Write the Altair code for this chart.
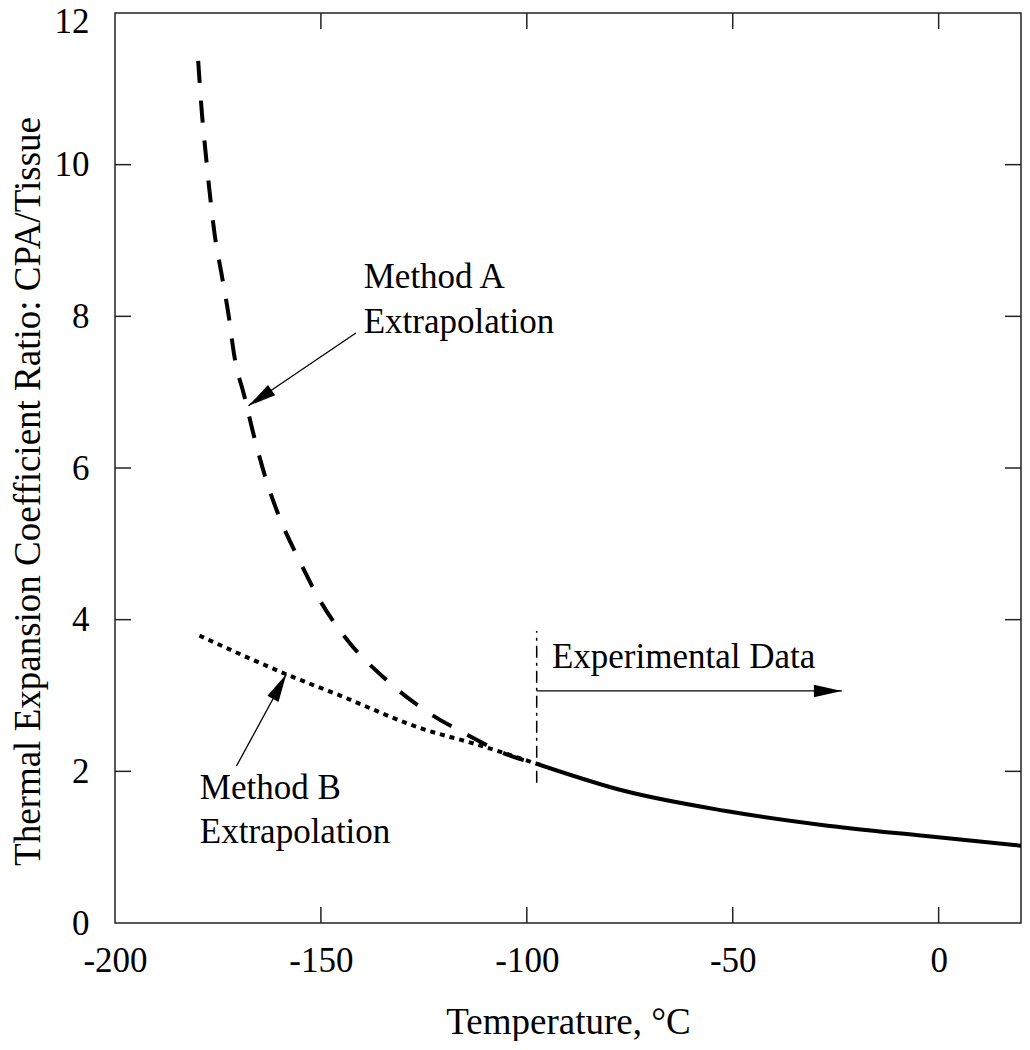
import math
import altair as alt
import pandas as pd

# ---- data ----
temp_a = [-179.8, -178.9, -178.0, -177.0, -175.8, -174.1, -172.4, -171.0, -168.6, -166.2,
          -163.5, -160.0, -155.5, -150.3, -143.4, -134.0, -124.6, -114.4, -104.7, -97.6]
ratio_a = [11.37, 10.68, 10.16, 9.63, 9.08, 8.55, 8.01, 7.47, 6.95, 6.41,
           5.88, 5.34, 4.81, 4.26, 3.72, 3.20, 2.80, 2.48, 2.22, 2.10]

temp_b = [-179.5, -169.0, -158.4, -146.3, -125.3, -112.5, -97.6]
ratio_b = [3.79, 3.53, 3.28, 3.02, 2.56, 2.36, 2.10]

temp_exp = [-97.6, -76.2, -52.0, -27.9, -3.7, 20.0]
ratio_exp = [2.10, 1.74, 1.48, 1.29, 1.15, 1.02]

x_ticks = [-200, -150, -100, -50, 0]
y_ticks = [0, 2, 4, 6, 8, 10, 12]
x_inner = [-150, -100, -50, 0]
y_inner = [2, 4, 6, 8, 10]

# boundary of experimental data
bound_x = -97.6
bound_y = [1.85, 3.85]

# annotations
ann_text = ["Method A", "Extrapolation", "Method B", "Extrapolation", "Experimental Data"]
ann_x = [-139.6, -139.6, -179.4, -179.4, -93.9]
ann_y = [8.37, 7.78, 1.64, 1.06, 3.36]

# arrows: start -> tip
arr_x0 = [-141.5, -170.5, -97.6]
arr_y0 = [7.78, 2.07, 3.06]
arr_x1 = [-167.6, -158.4, -23.5]
arr_y1 = [6.82, 3.28, 3.06]

W, H = 906, 910
XD = [-200, 20]
YD = [0, 12]
FONT = "Liberation Serif"

xs = alt.Scale(domain=XD, nice=False, zero=False)
ys = alt.Scale(domain=YD, nice=False, zero=False)

x_axis = alt.Axis(values=x_ticks, ticks=False, domain=False, grid=False,
                  labelPadding=20, title="Temperature, °C", titlePadding=26,
                  labelFlush=False, labelExpr="'' + datum.value")
y_axis = alt.Axis(values=y_ticks, ticks=False, domain=False, grid=False,
                  labelPadding=26, title="Thermal Expansion Coefficient Ratio: CPA/Tissue",
                  titlePadding=7, titleY=478, titleFontSize=37,
                  labelOffset={"condition": {"test": "datum.value == 12", "value": 8}, "value": 0},
                  labelFlush=False, labelExpr="'' + datum.value")

X = alt.X("t:Q", scale=xs, axis=x_axis)
Y = alt.Y("r:Q", scale=ys, axis=y_axis)

df_a = pd.DataFrame({"t": temp_a, "r": ratio_a})
df_b = pd.DataFrame({"t": temp_b, "r": ratio_b})
df_e = pd.DataFrame({"t": temp_exp, "r": ratio_exp})

main = alt.Chart(df_e).mark_line(color="black", strokeWidth=4, interpolate="monotone").encode(x=X, y=Y)
line_a = alt.Chart(df_a).mark_line(color="black", strokeWidth=4, strokeDash=[22, 18],
                                   interpolate="monotone").encode(x=X, y=Y)
line_b = alt.Chart(df_b).mark_line(color="black", strokeWidth=4, strokeDash=[5, 5],
                                   interpolate="monotone").encode(x=X, y=Y)

bound = alt.Chart(pd.DataFrame({"t": [bound_x], "r": [bound_y[0]], "r2": [bound_y[1]]})).mark_rule(
    color="black", strokeWidth=1.5, strokeDash=[12, 5, 3, 5]).encode(x=X, y=Y, y2="r2:Q")

# inner ticks on all four sides
tx = pd.DataFrame({"t": x_inner})
ty = pd.DataFrame({"r": y_inner})
tick_style = dict(color="#222", strokeWidth=1.5)
t_bottom = alt.Chart(tx).mark_rule(**tick_style).encode(x=X, y=alt.value(H), y2=alt.value(H - 16))
t_top = alt.Chart(tx).mark_rule(**tick_style).encode(x=X, y=alt.value(0), y2=alt.value(16))
t_left = alt.Chart(ty).mark_rule(**tick_style).encode(y=Y, x=alt.value(0), x2=alt.value(16))
t_right = alt.Chart(ty).mark_rule(**tick_style).encode(y=Y, x=alt.value(W), x2=alt.value(W - 16))

# annotations
df_ann = pd.DataFrame({"txt": ann_text, "t": ann_x, "r": ann_y})
ann = alt.Chart(df_ann).mark_text(align="left", baseline="alphabetic", font=FONT, fontSize=35,
                                  color="black").encode(x=X, y=Y, text="txt:N")

# arrows
sx = W / (XD[1] - XD[0])
sy = H / (YD[1] - YD[0])
angles = []
for x0, y0, x1, y1 in zip(arr_x0, arr_y0, arr_x1, arr_y1):
    dx = (x1 - x0) * sx
    dy = -(y1 - y0) * sy
    angles.append(math.degrees(math.atan2(dx, -dy)) % 360)

df_arr = pd.DataFrame({"t": arr_x0, "r": arr_y0, "t2": arr_x1, "r2": arr_y1})
arr_lines = alt.Chart(df_arr).mark_rule(color="black", strokeWidth=1.3).encode(
    x=X, y=Y, x2="t2:Q", y2="r2:Q")

heads = []
for x1, y1, a in zip(arr_x1, arr_y1, angles):
    heads.append(
        alt.Chart(pd.DataFrame({"t": [x1], "r": [y1]})).mark_point(
            shape="M0,0L-0.45,2L0.45,2Z", filled=True, size=784, color="black",
            opacity=1, strokeWidth=0, angle=a).encode(x=X, y=Y)
    )

chart = alt.layer(main, line_a, line_b, bound, t_bottom, t_top, t_left, t_right,
                  ann, arr_lines, *heads).properties(
    width=W, height=H,
    background="white",
    autosize=alt.AutoSizeParams(type="none"),
    padding={"left": 107, "top": 5, "right": 1, "bottom": 118},
).configure_view(stroke="#222", strokeWidth=1.5).configure_axis(
    labelFont=FONT, labelFontSize=35, labelColor="black",
    titleFont=FONT, titleFontSize=37, titleFontWeight="normal", titleColor="black",
)

chart.save("out.html", embed_options={"renderer": "svg", "actions": False})
